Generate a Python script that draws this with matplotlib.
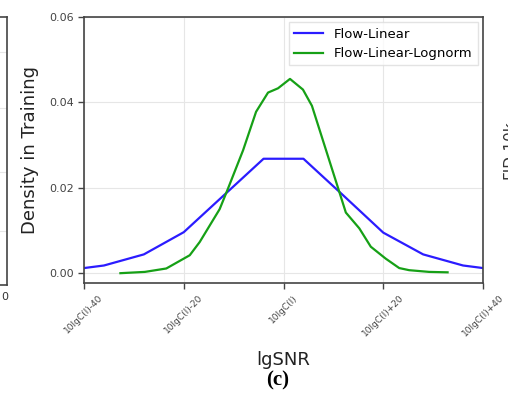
import matplotlib
matplotlib.use("Agg")
import matplotlib.pyplot as plt

# x positions in dB relative to 10lgC(I)
lin_x = [-40, -36, -28, -20, -12, -4, 4, 12, 20, 28, 36, 40]
lin_y = [0.0012, 0.0018, 0.0044, 0.0096, 0.0182, 0.0268,
         0.0268, 0.0182, 0.0095, 0.0044, 0.0018, 0.0012]

logn_x = [-32.7, -27.8, -23.5, -18.8, -16.8, -12.8, -11.1, -8.1, -5.5, -3.1, -1.1,
          1.3, 3.9, 5.7, 11.2, 12.5, 15.2, 17.5, 20.5, 23.2, 25.2, 29.2, 32.9]
logn_y = [0.0000, 0.0003, 0.0011, 0.0042, 0.0073, 0.0150, 0.0199, 0.0288, 0.0378,
          0.0423, 0.0433, 0.0455, 0.0430, 0.0392, 0.0190, 0.0142, 0.0105, 0.0062,
          0.0034, 0.0012, 0.0007, 0.0003, 0.0002]

xticks = [-40, -20, 0, 20, 40]
xticklabels = ["10lgC(I)-40", "10lgC(I)-20", "10lgC(I)", "10lgC(I)+20", "10lgC(I)+40"]
yticks = [0.00, 0.02, 0.04, 0.06]

W, H = 508, 398
fig = plt.figure(figsize=(W / 100, H / 100), dpi=100)

# sliver of the neighbouring panel on the left
left_ax = fig.add_axes([-0.3, 1 - 285 / H, 0.3 + 7 / W, (285 - 17) / H])
left_ax.set_xticks([])
left_ax.set_yticks([])
for s in left_ax.spines.values():
    s.set_color("#444444")
    s.set_linewidth(1.2)
for yy in [0.2, 0.42, 0.66, 0.87]:
    left_ax.axhline(yy, color="#e6e6e6", lw=0.8)
fig.text(5 / W, 1 - 297 / H, "0", fontsize=8, ha="center", va="center", color="#333333")
fig.text(503 / W, 1 - 150 / H, "FID-10k", fontsize=11, rotation=90,
         ha="left", va="center", color="#333333")

ax = fig.add_axes([84 / W, 1 - 283 / H, (483 - 84) / W, (283 - 17) / H])
ax.plot(lin_x, lin_y, color="#2b1cff", lw=1.6, label="Flow-Linear")
ax.plot(logn_x, logn_y, color="#16a016", lw=1.6, label="Flow-Linear-Lognorm")

ax.set_xlim(-40, 40)
ax.set_ylim(-0.0023, 0.06)
ax.set_xticks(xticks)
ax.set_xticklabels(xticklabels, rotation=45, fontsize=6.5, color="#333333")
ax.set_yticks(yticks)
ax.set_yticklabels(["%.2f" % v for v in yticks], fontsize=8, color="#333333")
ax.grid(True, color="#e6e6e6", lw=0.8)
ax.set_axisbelow(True)
for s in ax.spines.values():
    s.set_color("#444444")
    s.set_linewidth(1.2)
ax.tick_params(colors="#444444", length=4, width=1)

ax.set_xlabel("lgSNR", fontsize=13, color="#222222")
ax.xaxis.set_label_coords(0.5, (283 - 360) / 266)
ax.xaxis.label.set_va("center")
ax.set_ylabel("Density in Training", fontsize=13, color="#222222")
ax.yaxis.set_label_coords((30 - 84) / 399, 0.5)
ax.yaxis.label.set_va("center")

ax.legend(loc="upper right", fontsize=9.5, frameon=True, fancybox=False,
          edgecolor="#dddddd", handlelength=2.2, borderaxespad=0.4)

fig.text(278 / W, 1 - 380 / H, "(c)", fontsize=15, fontweight="bold",
         family="Liberation Serif", ha="center", va="center")

fig.savefig("out.png", dpi=100)
